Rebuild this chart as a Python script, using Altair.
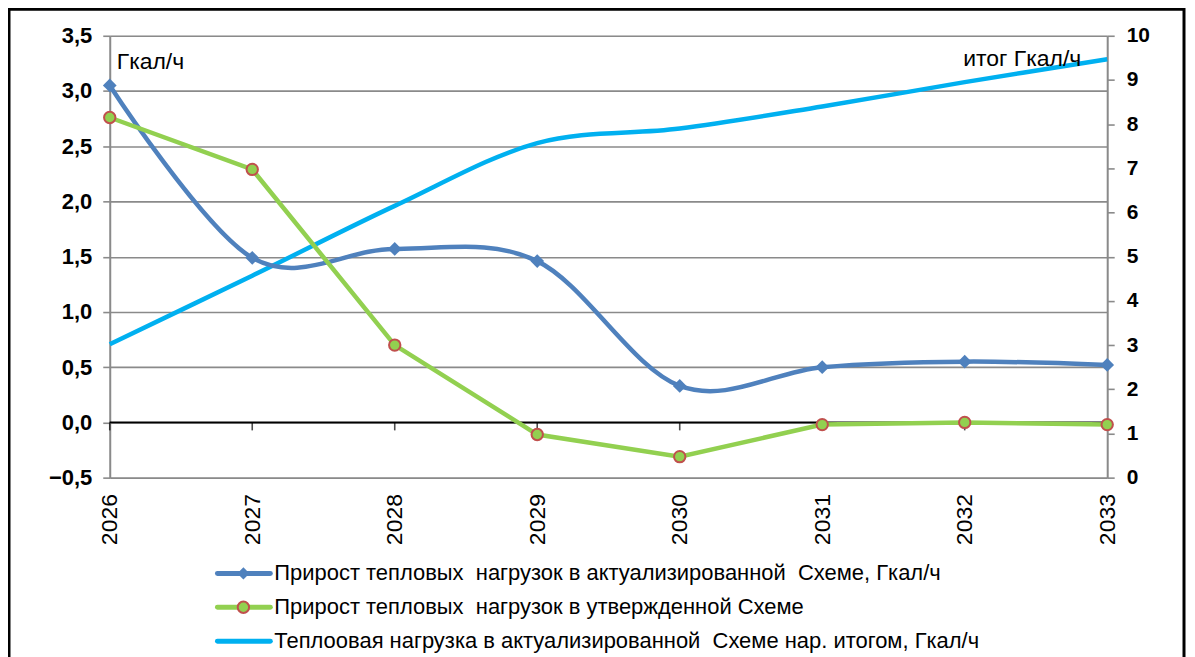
import altair as alt
import pandas as pd

# ---- data ----
years = [2026, 2027, 2028, 2029, 2030, 2031, 2032, 2033]
growth_actual = [3.05, 1.49, 1.57, 1.46, 0.33, 0.50, 0.55, 0.52]
growth_approved = [2.76, 2.29, 0.70, -0.11, -0.31, -0.02, 0.00, -0.02]
load_cumulative = [3.02, 4.57, 6.15, 7.57, 7.90, 8.40, 8.95, 9.47]
series_labels = [
    "Прирост тепловых \u00a0нагрузок в актуализированной \u00a0Схеме, Гкал/ч",
    "Прирост тепловых \u00a0нагрузок в утвержденной Схеме",
    "Теплоовая нагрузка в актуализированной \u00a0Схеме нар. итогом, Гкал/ч",
]
left_ticks = [-0.5, 0.0, 0.5, 1.0, 1.5, 2.0, 2.5, 3.0, 3.5]
right_ticks = [0, 1, 2, 3, 4, 5, 6, 7, 8, 9, 10]
left_unit = "Гкал/ч"
right_unit = "итог Гкал/ч"

# ---- style ----
FONT = "Liberation Sans"
BLUE = "#4f81bd"
GREEN = "#92d050"
CYAN = "#00b0f0"
RED = "#c0504d"
GRID = "#8a8a8a"

df = pd.DataFrame({
    "year": years,
    "actual": growth_actual,
    "approved": growth_approved,
    "cumulative": load_cumulative,
})
legend_df = pd.DataFrame({"label": series_labels, "row": [0, 1, 2]})
one = pd.DataFrame({"a": [0]})

x_enc = alt.X(
    "year:Q",
    scale=alt.Scale(domain=[2026, 2033], nice=False, zero=False),
    axis=alt.Axis(values=years, format="d", labelAngle=-90, ticks=False, tickSize=0,
                  domain=False, grid=False, labelFontSize=23, labelFont=FONT,
                  labelColor="black", labelPadding=16, title=None),
)
left_scale = alt.Scale(domain=[-0.5, 3.5], nice=False, zero=False)
left_axis = alt.Axis(
    orient="left", values=left_ticks,
    labelExpr="replace(format(datum.value, '.1f'), '.', ',')",
    grid=True, gridColor=GRID, gridWidth=1.6,
    domainColor=GRID, domainWidth=2, tickColor=GRID, tickWidth=1.6, tickSize=7,
    labelFontSize=22, labelFontWeight="bold", labelFont=FONT, labelColor="black",
    labelPadding=11, title=None,
)

base = alt.Chart(df)

cum_line = base.mark_line(color=CYAN, strokeWidth=4.5, interpolate="cardinal").encode(
    x=x_enc,
    y=alt.Y("cumulative:Q", scale=alt.Scale(domain=[0, 10], nice=False),
            axis=alt.Axis(orient="right", values=right_ticks, format="d", grid=False,
                          domainColor=GRID, domainWidth=2, tickColor=GRID, tickWidth=1.6,
                          tickSize=7, labelFontSize=21, labelFontWeight="bold",
                          labelFont=FONT, labelColor="black", labelPadding=12, title=None)),
)

zero_rule = alt.Chart(one).mark_rule(color="black", strokeWidth=1.6).encode(
    y=alt.Y(datum=0, scale=left_scale, axis=left_axis)
)
zero_ticks = base.mark_tick(orient="vertical", color="black", size=8, thickness=1.6, yOffset=4).encode(
    x=x_enc, y=alt.Y(datum=0, scale=left_scale)
)
actual_line = base.mark_line(color=BLUE, strokeWidth=4.5, interpolate="cardinal").encode(
    x=x_enc, y=alt.Y("actual:Q", scale=left_scale)
)
actual_pts = base.mark_point(shape="diamond", filled=True, color=BLUE, size=190, opacity=1).encode(
    x=x_enc, y=alt.Y("actual:Q", scale=left_scale)
)
approved_line = base.mark_line(color=GREEN, strokeWidth=4.5).encode(
    x=x_enc, y=alt.Y("approved:Q", scale=left_scale)
)
approved_pts = base.mark_point(shape="circle", filled=True, fill=GREEN, stroke=RED,
                               strokeWidth=2, size=130, opacity=1).encode(
    x=x_enc, y=alt.Y("approved:Q", scale=left_scale)
)
left_layer = alt.layer(zero_rule, zero_ticks, actual_line, actual_pts, approved_line, approved_pts)

# ---- legend (drawn below the plot) ----
leg_y = alt.Y("row:Q", scale=alt.Scale(domain=[0, 2], range=[539, 607]), axis=None)
leg_color = alt.Color("label:N", scale=alt.Scale(domain=series_labels, range=[BLUE, GREEN, CYAN]), legend=None)
leg_lines = alt.Chart(legend_df).mark_rule(strokeWidth=5, strokeCap="round").encode(
    x=alt.value(108), x2=alt.value(161), y=leg_y, color=leg_color
)
leg_diamond = alt.Chart(legend_df.iloc[[0]]).mark_point(shape="diamond", filled=True, color=BLUE,
                                                       size=150, opacity=1).encode(
    x=alt.value(134), y=leg_y
)
leg_circle = alt.Chart(legend_df.iloc[[1]]).mark_point(shape="circle", filled=True, fill=GREEN,
                                                      stroke=RED, strokeWidth=2, size=130,
                                                      opacity=1).encode(
    x=alt.value(134), y=leg_y
)
leg_text = alt.Chart(legend_df).mark_text(align="left", baseline="middle", fontSize=22,
                                          font=FONT, color="black").encode(
    x=alt.value(165), y=leg_y, text="label:N"
)
legend_layer = alt.layer(leg_lines, leg_diamond, leg_circle, leg_text)

# ---- annotations & frame ----
ann_left = alt.Chart(one).mark_text(text=left_unit, align="left", baseline="middle",
                                    fontSize=23, font=FONT, color="black").encode(
    x=alt.value(7), y=alt.value(26)
)
ann_right = alt.Chart(one).mark_text(text=right_unit, align="right", baseline="middle",
                                     fontSize=23, font=FONT, color="black").encode(
    x=alt.value(974), y=alt.value(23)
)
frame = alt.Chart(one).mark_rect(filled=False, stroke="black", strokeWidth=3).encode(
    x=alt.value(-101), x2=alt.value(1077), y=alt.value(-26.5), y2=alt.value(640)
)

chart = alt.layer(
    cum_line, left_layer, legend_layer, ann_left, ann_right, frame
).resolve_scale(y="independent").properties(
    width=1000, height=443,
    padding={"left": 102, "top": 27, "right": 80, "bottom": 185},
    autosize=alt.AutoSizeParams(type="none"),
).configure_view(stroke="transparent").configure(background="white")

chart.save("out.html", embed_options={"renderer": "svg", "actions": False})
